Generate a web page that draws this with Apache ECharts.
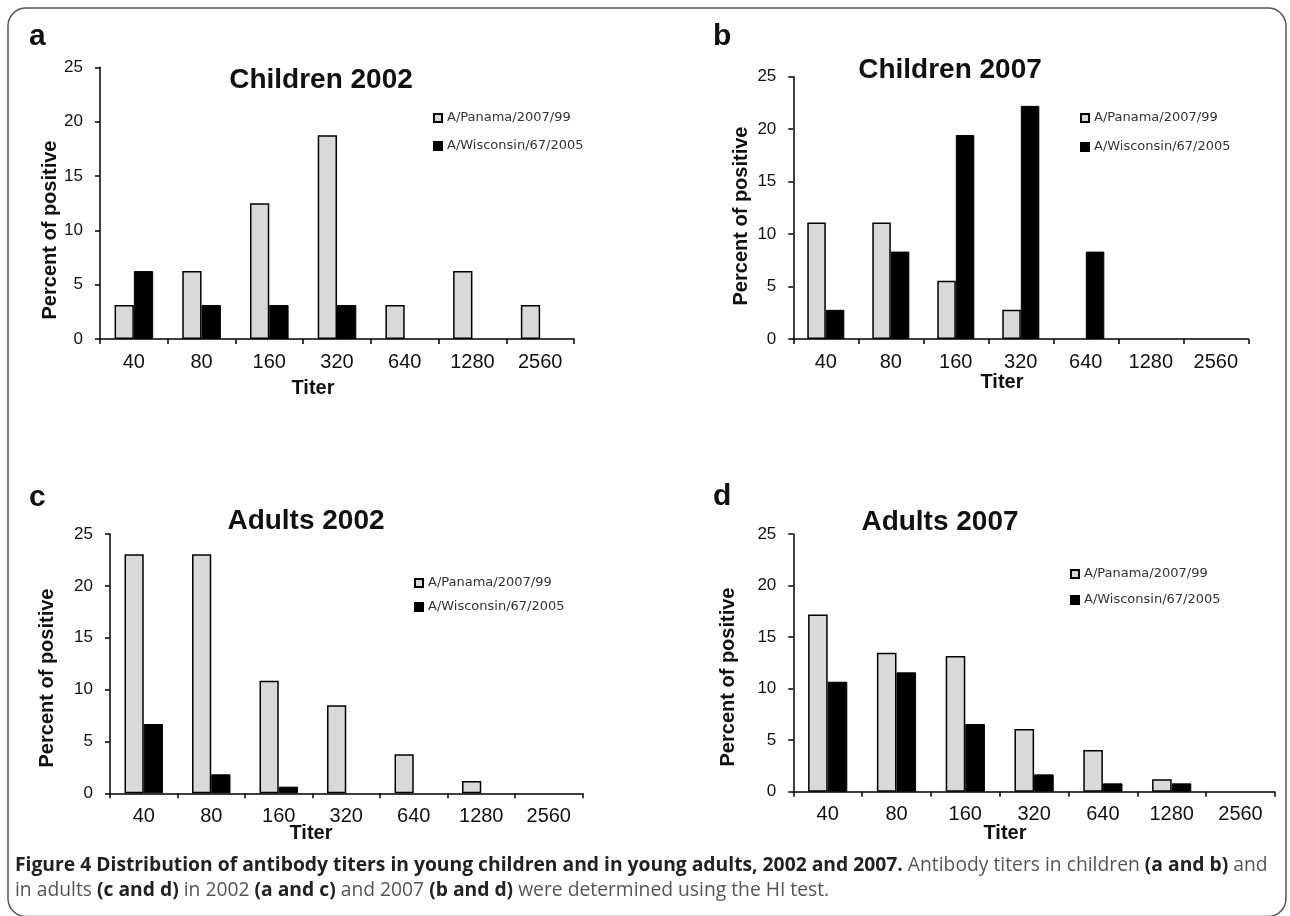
<!DOCTYPE html>
<html>
<head>
<meta charset="utf-8">
<script src="https://cdn.jsdelivr.net/npm/echarts@6/dist/echarts.min.js"></script>
<style>
html,body{margin:0;padding:0;background:#fff;}
#chart{width:1290px;height:916px;}
</style>
</head>
<body>
<div id="chart"></div>
<script>
// ---- data ----
const titers = ['40', '80', '160', '320', '640', '1280', '2560'];
const seriesNames = ['A/Panama/2007/99', 'A/Wisconsin/67/2005'];
const panelTitles = ['Children 2002', 'Children 2007', 'Adults 2002', 'Adults 2007'];
const panelLetters = ['a', 'b', 'c', 'd'];
const children2002Panama = [3.13, 6.25, 12.5, 18.75, 3.13, 6.25, 3.13];
const children2002Wisconsin = [6.25, 3.13, 3.13, 3.13, 0, 0, 0];
const children2007Panama = [11.11, 11.11, 5.56, 2.78, 0, 0, 0];
const children2007Wisconsin = [2.78, 8.33, 19.44, 22.22, 8.33, 0, 0];
const adults2002Panama = [23.04, 23.04, 10.86, 8.48, 3.76, 1.19, 0];
const adults2002Wisconsin = [6.68, 1.83, 0.64, 0, 0, 0, 0];
const adults2007Panama = [17.2, 13.49, 13.16, 6.08, 4.04, 1.2, 0];
const adults2007Wisconsin = [10.67, 11.58, 6.57, 1.68, 0.81, 0.81, 0];
const yAxisName = 'Percent of positive';
const xAxisName = 'Titer';

const panelData = [
  [children2002Panama, children2002Wisconsin],
  [children2007Panama, children2007Wisconsin],
  [adults2002Panama, adults2002Wisconsin],
  [adults2007Panama, adults2007Wisconsin]
];

// ---- layout ----
const FONT = '"Liberation Sans", Arial, sans-serif';
const grids = [
  {left: 100, top: 67.3, width: 474, height: 271.7},
  {left: 793.3, top: 76.7, width: 455, height: 262.3},
  {left: 110, top: 534, width: 472.5, height: 259.3},
  {left: 793.3, top: 534, width: 481.6, height: 257.7}
];
const titlePos = [[321, 80], [950, 70], [306, 521], [940, 522]];
const letterPos = [[29, 37], [713, 37], [29, 498], [713, 497]];
const yNamePos = [[50, 230], [741, 216], [47, 678], [728, 677]];
const xNamePos = [[313, 388], [1002, 382], [311, 833], [1005, 833]];
const legendPos = [
  {left: 433, top: 111, itemGap: 14},
  {left: 1080, top: 111, itemGap: 15},
  {left: 414, top: 576, itemGap: 10},
  {left: 1070, top: 567, itemGap: 12}
];

const chart = echarts.init(document.getElementById('chart'), null, {renderer: 'canvas'});

const xAxes = [], yAxes = [], series = [], legends = [], graphics = [];
const noZero = arr => arr.map(v => (v === 0 ? null : v));

grids.forEach((g, i) => {
  xAxes.push({
    type: 'category', gridIndex: i, data: titers,
    boundaryGap: true,
    axisLine: {lineStyle: {color: '#000', width: 1.5}},
    axisTick: {show: true, alignWithLabel: false, length: 5, lineStyle: {color: '#000', width: 1.5}},
    axisLabel: {fontFamily: FONT, fontSize: 20, color: '#111', margin: 13},
    splitLine: {show: false}
  });
  yAxes.push({
    type: 'value', gridIndex: i, min: 0, max: 25, interval: 5,
    axisLine: {show: true, lineStyle: {color: '#000', width: 1.5}},
    axisTick: {show: true, length: 5, lineStyle: {color: '#000', width: 1.5}},
    axisLabel: {fontFamily: FONT, fontSize: 17, color: '#111', margin: 17},
    splitLine: {show: false}
  });
  series.push({
    name: seriesNames[0], type: 'bar', xAxisIndex: i, yAxisIndex: i,
    data: noZero(panelData[i][0]), barGap: '0%', barCategoryGap: '43%',
    itemStyle: {color: '#d9d9d9', borderColor: '#000', borderWidth: 1.5},
    emphasis: {disabled: true}, animation: false
  });
  series.push({
    name: seriesNames[1], type: 'bar', xAxisIndex: i, yAxisIndex: i,
    data: noZero(panelData[i][1]), barGap: '0%', barCategoryGap: '43%',
    itemStyle: {color: '#000', borderColor: '#000', borderWidth: 1},
    emphasis: {disabled: true}, animation: false
  });
  legends.push({
    orient: 'vertical', left: legendPos[i].left, top: legendPos[i].top,
    itemGap: legendPos[i].itemGap, padding: 0,
    itemWidth: 8, itemHeight: 8, icon: 'rect',
    data: seriesNames, selectedMode: false,
    textStyle: {fontFamily: '"DejaVu Sans", sans-serif', fontSize: 13, lineHeight: 14, color: '#333'}
  });
  graphics.push({
    type: 'text', x: titlePos[i][0], y: titlePos[i][1],
    style: {text: panelTitles[i], font: 'bold 28px ' + FONT, fill: '#111',
      align: 'center', verticalAlign: 'middle', textAlign: 'center', textVerticalAlign: 'middle'}
  });
  graphics.push({
    type: 'text', x: letterPos[i][0], y: letterPos[i][1],
    style: {text: panelLetters[i], font: 'bold 30px ' + FONT, fill: '#111',
      align: 'left', verticalAlign: 'middle', textAlign: 'left', textVerticalAlign: 'middle'}
  });
  graphics.push({
    type: 'text', x: yNamePos[i][0], y: yNamePos[i][1], rotation: Math.PI / 2,
    style: {text: yAxisName, font: 'bold 20px ' + FONT, fill: '#111',
      align: 'center', verticalAlign: 'middle', textAlign: 'center', textVerticalAlign: 'middle'}
  });
  graphics.push({
    type: 'text', x: xNamePos[i][0], y: xNamePos[i][1],
    style: {text: xAxisName, font: 'bold 20px ' + FONT, fill: '#111',
      align: 'center', verticalAlign: 'middle', textAlign: 'center', textVerticalAlign: 'middle'}
  });
});

// frame
graphics.push({
  type: 'rect', shape: {x: 8, y: 8, width: 1278, height: 908.5, r: 18},
  style: {fill: 'none', stroke: '#555', lineWidth: 1.5}, z: -1
});

// caption
const capFont = '"Open Sans", sans-serif';
const capRich = {
  b: {fontFamily: capFont, fontWeight: 'bold', fontSize: 19.3, fill: '#222', color: '#222'},
  r: {fontFamily: capFont, fontWeight: 'normal', fontSize: 19.3, fill: '#555', color: '#555'}
};
graphics.push({
  type: 'text', x: 15, y: 866,
  style: {
    text: '{b|Figure 4 Distribution of antibody titers in young children and in young adults, 2002 and 2007.}{r| Antibody titers in children }{b|(a and b)}{r| and}',
    rich: capRich, align: 'left', verticalAlign: 'middle', textAlign: 'left', textVerticalAlign: 'middle'
  }
});
graphics.push({
  type: 'text', x: 15, y: 891,
  style: {
    text: '{r|in adults }{b|(c and d)}{r| in 2002 }{b|(a and c)}{r| and 2007 }{b|(b and d)}{r| were determined using the HI test.}',
    rich: capRich, align: 'left', verticalAlign: 'middle', textAlign: 'left', textVerticalAlign: 'middle'
  }
});

chart.setOption({
  animation: false,
  backgroundColor: '#fff',
  grid: grids.map(g => Object.assign({containLabel: false}, g)),
  xAxis: xAxes,
  yAxis: yAxes,
  series: series,
  legend: legends,
  graphic: graphics
});
</script>
</body>
</html>
